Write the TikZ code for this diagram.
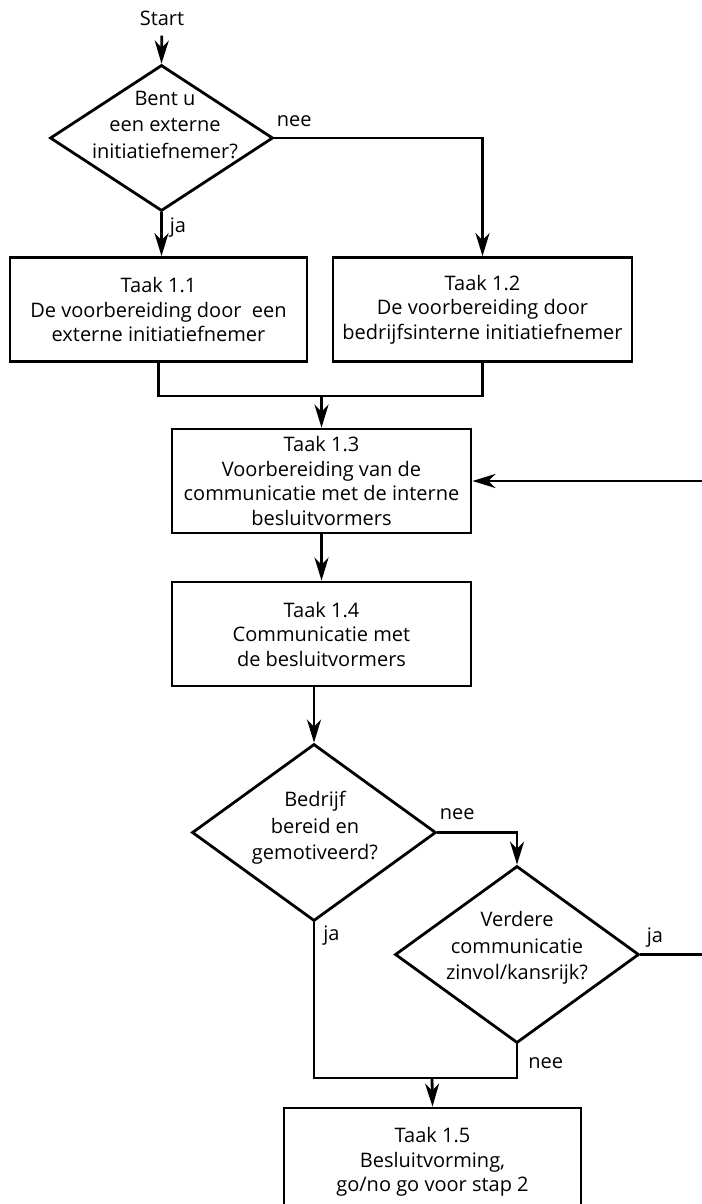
\documentclass[tikz,border=0pt]{standalone}
\usepackage{fontspec}
\setmainfont{Open Sans}
\usetikzlibrary{shapes.geometric,arrows.meta,positioning}
\begin{document}
\begin{tikzpicture}[x=1pt,y=-1pt,line width=2.8pt,
        every node/.style={font=\fontsize{20}{24.5}\selectfont,align=center,inner sep=1pt},
        taak/.style={draw,rectangle,minimum width=297pt,minimum height=104pt},
        keuze/.style={draw,diamond,inner sep=0pt,minimum width=244pt,minimum height=177pt},
        vraag/.style={font=\fontsize{20}{26.5}\selectfont},
        arr/.style={-{Stealth[length=23pt,width=14pt,inset=7pt]}}]
        \useasboundingbox (0,0) rectangle (701,1204);
        \node (start) at (162,18) {Start};
        \node [keuze,minimum width=223pt,minimum height=146pt] (q1) at (161.5,138) {};
        \node [vraag] (q1t) at (165,125) {Bent u\\een externe\\initiatiefnemer?};
        \node [taak] (t11) at (158.5,309.5) {Taak 1.1\\De voorbereiding door~ een\\externe initiatiefnemer};
        \node [taak,minimum width=299pt] (t12) at (482.5,309.5) {Taak 1.2\\De voorbereiding door\\bedrijfsinterne initiatiefnemer};
        \node [taak,minimum width=299pt] (t13) at (321.5,481) {Taak 1.3\\Voorbereiding van de\\communicatie met de interne\\besluitvormers};
        \node [taak,minimum width=299pt] (t14) at (321.5,634) {Taak 1.4\\Communicatie met\\de besluitvormers};
        \node [keuze] (q2) at (314,832.5) {};
        \node [vraag] (q2t) at (315,828) {Bedrijf\\bereid en\\gemotiveerd?};
        \node [keuze] (q3) at (517,954.5) {};
        \node [vraag] (q3t) at (517,948) {Verdere\\communicatie\\zinvol/kansrijk?};
        \node [taak,minimum height=108pt] (t15) at (432.5,1162) {Taak 1.5\\Besluitvorming,\\go/no go voor stap 2};
        \coordinate (m1) at (321.5,396);
        \coordinate (m2) at (432,1078);
        \coordinate (r1) at (712,954.5);
        \draw [arr,shorten <=8pt] (start) -- (q1.north);
        \draw [arr] (q1.south) node [below right=3pt and 6pt] {ja} -- (q1.south |- t11.north);
        \draw [arr] (q1.east) node [above right=9pt and 0pt] {nee} -| (t12.north);
        \draw (t11.south) |- (m1) -| (t12.south);
        \draw [arr] (m1) -- (t13.north);
        \draw [arr] (t13) -- (t14);
        \draw [arr] (q2.north |- t14.south) -- (q2.north);
        \draw [arr] (q2.east) node [above right=10pt and 0pt] {nee} -| (q3.north);
        \draw (q2.south) node [below right=1pt and 7pt] {ja} |- (m2);
        \draw (q3.south) node [below right=11pt and 9pt] {nee} |- (m2);
        \draw [arr] (q3.east) node [above right=5pt and 4pt] {ja} -- (r1) |- (t13.east);
        \draw [arr] (m2) -- (t15.north);
\end{tikzpicture}
\end{document}
